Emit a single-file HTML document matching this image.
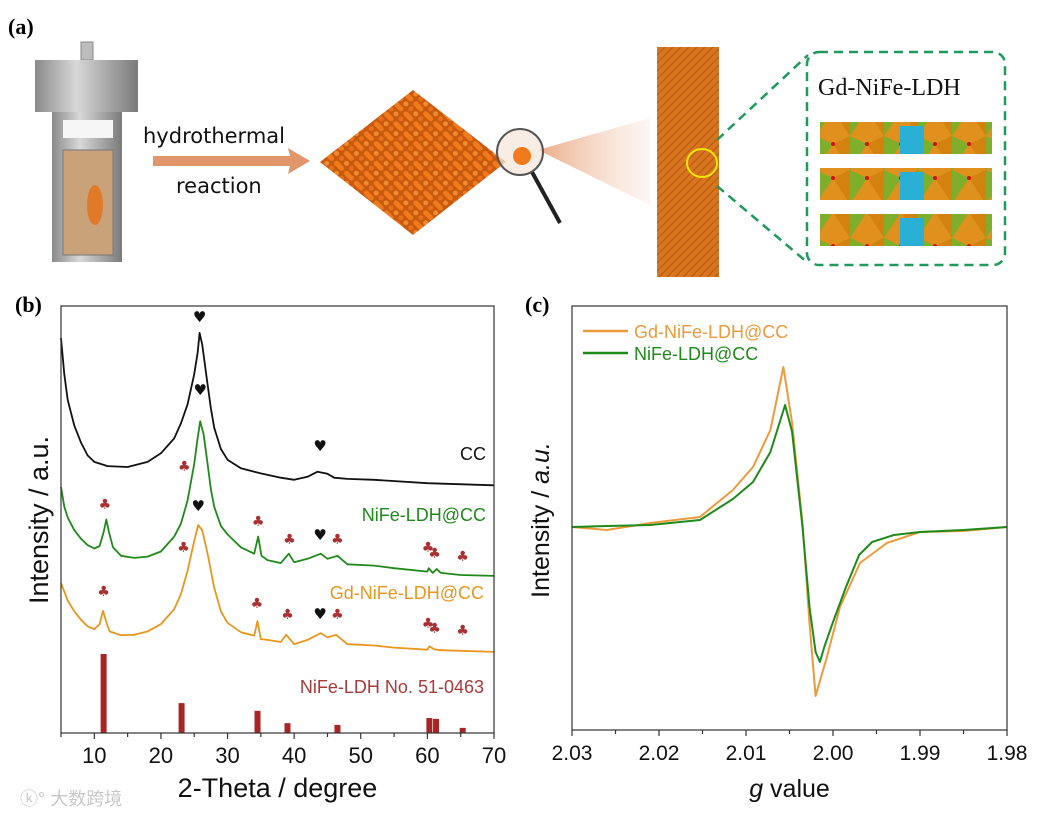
<!DOCTYPE html>
<html><head><meta charset="utf-8"><style>
html,body{margin:0;padding:0;background:#fff}
svg{display:block;font-family:"Liberation Sans",sans-serif}
</style></head><body>
<svg id="fig" width="1039" height="816" viewBox="0 0 1039 816">
<defs>
<pattern id="weave" width="14" height="14" patternUnits="userSpaceOnUse" patternTransform="rotate(45)">
<rect width="14" height="14" fill="#c8590e"/>
<rect x="1" y="1" width="12" height="5" rx="2.5" fill="#f07a1c"/>
<rect x="1" y="8" width="5" height="5" rx="2.5" fill="#e8701a"/>
<rect x="8" y="8" width="5" height="5" rx="2.5" fill="#f28a2e"/>
</pattern>
<pattern id="fiber" width="8" height="8" patternUnits="userSpaceOnUse">
<rect width="8" height="8" fill="#d9751f"/>
<path d="M0 8L8 0M-2 2L2 -2M6 10L10 6" stroke="#b85d12" stroke-width="1.2"/>
</pattern>
<linearGradient id="metal" x1="0" x2="1"><stop offset="0" stop-color="#8a8a8a"/><stop offset="0.4" stop-color="#d8d8d8"/><stop offset="1" stop-color="#7a7a7a"/></linearGradient>
<linearGradient id="beam" x1="0" x2="1"><stop offset="0" stop-color="#e8a27a" stop-opacity="0.9"/><stop offset="1" stop-color="#f3d2bf" stop-opacity="0.2"/></linearGradient>
<pattern id="poly" width="34" height="34" patternUnits="userSpaceOnUse">
<rect width="34" height="34" fill="#e0901c"/>
<polygon points="0,0 17,8 0,34" fill="#7fae2a"/>
<polygon points="17,8 34,0 34,34" fill="#d3820f"/>
<circle cx="17" cy="8" r="2" fill="#d01010"/>
</pattern>
</defs>

<g>
<text x="8" y="34" font-family="Liberation Serif,serif" font-weight="bold" font-size="22">(a)</text>
<g>
<rect x="81" y="42" width="12" height="18" fill="#bdbdbd" stroke="#888"/>
<rect x="35" y="60" width="103" height="52" fill="url(#metal)"/>
<rect x="52" y="112" width="70" height="150" fill="url(#metal)"/>
<rect x="63" y="120" width="50" height="18" fill="#f6f6f6"/>
<rect x="63" y="150" width="50" height="105" fill="#c9a27a" stroke="#777"/>
<ellipse cx="95" cy="205" rx="8" ry="20" fill="#e07a28"/>
</g>
<g>
<polygon points="153,156 290,156 288,148 310,161 288,174 290,166 153,166" fill="#e0956a"/>
<text x="143" y="143" font-size="21" font-family="DejaVu Sans,sans-serif" fill="#111">hydrothermal</text>
<text x="176" y="193" font-size="21" font-family="DejaVu Sans,sans-serif" fill="#111">reaction</text>
</g>
<polygon points="413,90 506,162 413,235 320,162" fill="url(#weave)"/>
<polygon points="538,150 650,118 650,205" fill="url(#beam)"/>
<g>
<line x1="532" y1="172" x2="560" y2="223" stroke="#222" stroke-width="4"/>
<circle cx="520" cy="152" r="23" fill="#f5e5d8" fill-opacity="0.7" stroke="#555" stroke-width="2"/>
<circle cx="522" cy="156" r="9" fill="#f07a1c"/>
</g>
<rect x="657" y="47" width="62" height="230" fill="url(#fiber)"/>
<ellipse cx="702" cy="163" rx="15" ry="14" fill="none" stroke="#f2e600" stroke-width="2"/>
<line x1="717" y1="140" x2="808" y2="55" stroke="#1e9a5c" stroke-width="2.5" stroke-dasharray="9 6"/>
<line x1="717" y1="186" x2="808" y2="263" stroke="#1e9a5c" stroke-width="2.5" stroke-dasharray="9 6"/>
<rect x="807" y="52" width="198" height="213" rx="12" fill="#fff" stroke="#1e9a5c" stroke-width="2.5" stroke-dasharray="9 6"/>
<text x="818" y="95" font-family="Liberation Serif,serif" font-size="24" fill="#111">Gd-NiFe-LDH</text>
<g>
<rect x="820" y="122" width="172" height="32" fill="url(#poly)"/><rect x="900" y="126" width="24" height="28" fill="#2ab0d6"/>
<rect x="820" y="168" width="172" height="32" fill="url(#poly)"/><rect x="900" y="172" width="24" height="28" fill="#2ab0d6"/>
<rect x="820" y="214" width="172" height="32" fill="url(#poly)"/><rect x="900" y="218" width="24" height="28" fill="#2ab0d6"/>
</g>
</g>

<text x="15" y="312" font-family="Liberation Serif,serif" font-weight="bold" font-size="22">(b)</text>
<text x="525" y="312" font-family="Liberation Serif,serif" font-weight="bold" font-size="22">(c)</text>

<g id="pb"></g>
<g id="pc"></g>

<text x="20" y="805" font-size="18" fill="#c8c8c8" font-family="Liberation Sans,'Noto Sans CJK SC',sans-serif">ⓚ° 大数跨境</text>
</svg>
<script>
// ---------- Panel b data (XRD) ----------
const ccX = [5,5.5,6,7,8,9,10,12,15,18,20,22,23,24,25,25.5,25.8,26.2,26.8,27.5,28,29,30,32,35,38,40,42,43.5,45,46,48,52,60,70];
const ccY = [92.5,84,78,72,68,65,63.5,62.5,62.3,63.5,65.5,69,72.5,77,84,89,93.7,91,84,76,71.5,66.5,64,62,60.8,59.8,59.3,60,61.2,60.7,59.8,59.5,59.3,58.5,58];
const niX = [5,5.5,6,7,8,9,10,10.8,11.4,11.8,12.2,12.8,14,16,18,20,22,23,24,25,25.5,25.9,26.4,27,27.5,28,29,30,32,34,34.6,35.1,36,38,39.2,40,42,44,45,46.5,48,52,55,60,60.2,60.8,61.4,62,65,70];
const niY = [57.6,53,50.5,47.5,45.5,44,43.2,43.8,47,50,47,43.5,41.5,41,41.3,42.5,46,49,54.5,63,69,73,70,63,57,53,48.5,46.5,43.5,42,46,41.5,40.5,39.8,42,40,40.8,42,40.8,41.5,39.5,39.2,38.6,37.8,38.6,37.5,38.4,37.5,37,36.8];
const gdX = [5,6,7,8,9,10,10.8,11.3,11.8,12.3,14,16,18,20,22,23,24,25,25.6,26.2,27,28,29,30,32,34,34.5,35,36,38,38.8,40,42,44,45,46.3,48,52,55,60,60.3,61,62,70];
const gdY = [35.1,31,28.5,26.5,25,24.3,25.5,28.6,26,23.8,22.9,23,23.8,25.5,29,32.5,38,45,48.7,47.5,42,34,28.5,25.8,23.6,22.8,26.2,22,21.8,21.3,23,20.8,21.8,23.4,22.4,23,20.8,20.5,20,19.5,20.3,19.6,19.4,19];
const refPos = [11.4,23.1,34.5,39,46.5,60.3,61.3,65.3];
const refInt = [18.5,7,5.2,2.3,1.9,3.5,3.3,1.2];
const xTicksB = [10,20,30,40,50,60,70];
const heartX = [25.8,25.9,43.9,25.6,43.9,43.9];
const heartY = [96.3,79.2,66.0,52,45.2,26.7];
const clubX = [11.6,23.5,34.6,39.3,46.5,60.1,61.1,65.3,11.4,23.4,34.4,39,46.5,60.1,61.1,65.3];
const clubY = [52.5,61.4,48.5,44.3,44.3,42.4,41,40.3,32.1,42.4,29.3,26.7,26.7,24.6,23.4,23];

// ---------- Panel c data (EPR) ----------
const gdG = [2.03,2.026,2.021,2.0153,2.0115,2.0092,2.0072,2.0057,2.0047,2.0035,2.0027,2.002,2.0007,1.9992,1.9969,1.9938,1.99,1.985,1.98];
const gdI = [0,-3,4,10,37,60,97,160,104,4,-96,-169,-130,-80,-36,-16,-5,-4,0];
const niG = [2.03,2.026,2.021,2.0153,2.0115,2.0092,2.0072,2.0055,2.0047,2.0035,2.0027,2.002,2.0015,2.001,2.0,1.9985,1.997,1.9955,1.993,1.99,1.985,1.98];
const niI = [0,1,2,7,28,45,75,122,95,0,-80,-125,-135,-120,-95,-60,-28,-15,-8,-5,-3,0];
const xTicksC = [2.03,2.02,2.01,2.00,1.99,1.98];
const xTickLabelsC = ["2.03","2.02","2.01","2.00","1.99","1.98"];

const NS = "http://www.w3.org/2000/svg";
function mk(parent, tag, attrs){const e=document.createElementNS(NS,tag);for(const k in attrs)e.setAttribute(k,attrs[k]);parent.appendChild(e);return e;}

const bL=61,bR=494,bT=306,bB=733;
const xb = v => bL + (v-5)/(70-5)*(bR-bL);
const yb = v => bB - v/100*(bB-bT);
const pb = document.getElementById('pb');
function drawLine(g, xs, ys, fx, fy, color, name, w){
  const d = xs.map((x,i)=>(i?'L':'M')+fx(x).toFixed(1)+' '+fy(ys[i]).toFixed(1)).join(' ');
  const p = mk(g,'path',{d:d,fill:'none',stroke:color,'stroke-width':w,'stroke-linejoin':'round'});
  
  
}
drawLine(pb, ccX, ccY, xb, yb, '#111', 'cc-series', 1.8);
drawLine(pb, niX, niY, xb, yb, '#1f8a1a', 'nife-ldh-series', 1.8);
drawLine(pb, gdX, gdY, xb, yb, '#e8961e', 'gd-nife-ldh-series', 1.8);
refPos.forEach((p,i)=>{
  const r = mk(pb,'rect',{x:xb(p)-3,y:yb(refInt[i]),width:6,height:bB-yb(refInt[i]),fill:'#a82525'});
  
  
});
heartX.forEach((x,i)=>{
  const t = mk(pb,'text',{x:xb(x),y:yb(heartY[i]),'text-anchor':'middle','font-size':15,fill:'#111','font-family':'DejaVu Sans,sans-serif'});
  t.textContent='♥';
  
  
});
clubX.forEach((x,i)=>{
  const t = mk(pb,'text',{x:xb(x),y:yb(clubY[i]),'text-anchor':'middle','font-size':14,fill:'#a83030','font-family':'DejaVu Sans,sans-serif'});
  t.textContent='♣';
  
  
});
const frameB = mk(pb,'rect',{x:bL,y:bT,width:bR-bL,height:bB-bT,fill:'none',stroke:'#333','stroke-width':1.2});


for(let v=5; v<=70; v+=5){
  mk(pb,'line',{x1:xb(v),x2:xb(v),y1:bB,y2:bB+(v%10===0?6:4),stroke:'#333','stroke-width':1.2});
}
xTicksB.forEach(v=>{
  const t = mk(pb,'text',{x:xb(v),y:bB+30,'text-anchor':'middle','font-size':22,fill:'#111'});
  t.textContent = v;
  
  
});
[['CC',486,460,'#111','cc-label'],['NiFe-LDH@CC',486,521,'#1f8a1a','nife-label'],['Gd-NiFe-LDH@CC',484,599,'#e8961e','gd-nife-label'],['NiFe-LDH No. 51-0463',484,693,'#a83a3a','reference-label']].forEach(a=>{
  const t = mk(pb,'text',{x:a[1],y:a[2],'text-anchor':'end','font-size':18,fill:a[3]});
  t.textContent=a[0];
  
  
});
const xtb = mk(pb,'text',{x:(bL+bR)/2,y:797,'text-anchor':'middle','font-size':27,fill:'#111'});
xtb.textContent='2-Theta / degree';


const ytb = mk(pb,'text',{x:0,y:0,transform:'translate(48,520) rotate(-90)','text-anchor':'middle','font-size':27,fill:'#111'});
ytb.textContent='Intensity / a.u.';



const cL=572,cR=1007,cT=306,cB=730;
const xc = v => cL + (2.03-v)/(0.05)*(cR-cL);
const yc = v => 527 - v;
const pc = document.getElementById('pc');
drawLine(pc, gdG, gdI, xc, yc, '#eb9a3c', 'gd-nife-ldh-epr-series', 2);
drawLine(pc, niG, niI, xc, yc, '#1f8a1a', 'nife-ldh-epr-series', 2);
const frameC = mk(pc,'rect',{x:cL,y:cT,width:cR-cL,height:cB-cT,fill:'none',stroke:'#333','stroke-width':1.2});


for(let k=0;k<=10;k++){
  const v = 2.03 - k*0.005;
  mk(pc,'line',{x1:xc(v),x2:xc(v),y1:cB,y2:cB+(k%2===0?6:4),stroke:'#333','stroke-width':1.2});
}
xTicksC.forEach((v,i)=>{
  const t = mk(pc,'text',{x:xc(v),y:cB+30,'text-anchor':'middle','font-size':21,fill:'#111'});
  t.textContent = xTickLabelsC[i];
  
  
});
mk(pc,'line',{x1:583,x2:628,y1:331,y2:331,stroke:'#eb9a3c','stroke-width':2.5});
mk(pc,'line',{x1:583,x2:628,y1:353,y2:353,stroke:'#1f8a1a','stroke-width':2.5});
const l1 = mk(pc,'text',{x:634,y:338,'font-size':18,fill:'#eb9a3c'}); l1.textContent='Gd-NiFe-LDH@CC';


const l2 = mk(pc,'text',{x:634,y:360,'font-size':18,fill:'#1f8a1a'}); l2.textContent='NiFe-LDH@CC';


const xtc = mk(pc,'text',{x:(cL+cR)/2,y:797,'text-anchor':'middle','font-size':25,fill:'#111'});
xtc.innerHTML='<tspan font-style="italic">g</tspan> value';


const ytc = mk(pc,'text',{x:0,y:0,transform:'translate(549,520) rotate(-90)','text-anchor':'middle','font-size':25,fill:'#111'});
ytc.innerHTML='Intensity / <tspan font-style="italic">a.u.</tspan>';


</script>
</body></html>
